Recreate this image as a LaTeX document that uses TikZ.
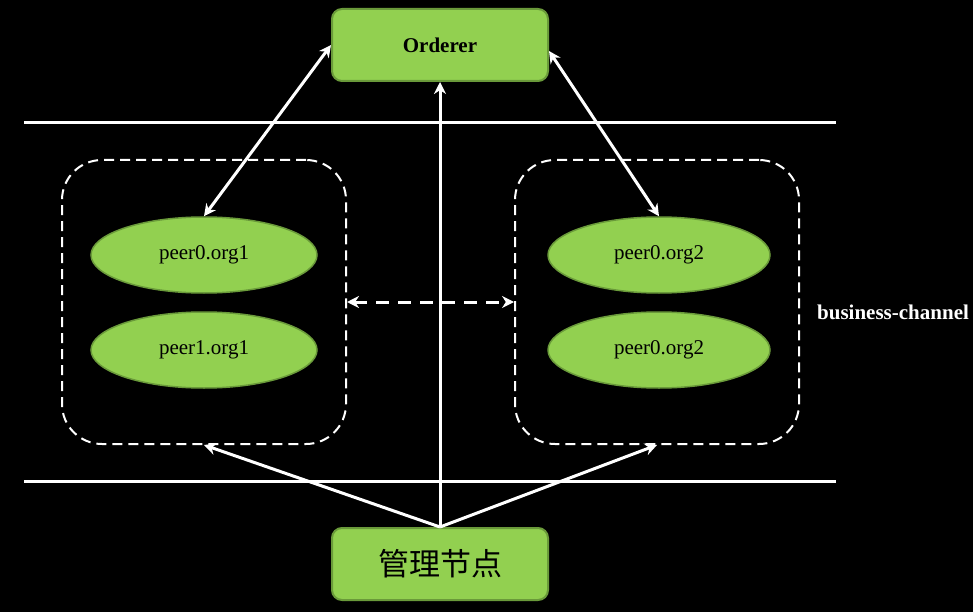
\documentclass[tikz,border=0pt]{standalone}
\usepackage{fontspec}
\setmainfont{Liberation Serif}
\newfontfamily\cjk{Noto Sans CJK SC}
\usetikzlibrary{arrows.meta,shapes.geometric,calc}
\definecolor{lgreen}{HTML}{92D050}
\definecolor{dgreen}{HTML}{6A9A3A}
\tikzset{
  gbox/.style={draw=dgreen,line width=2pt,fill=lgreen,rounded corners=10pt,minimum width=216pt,minimum height=72pt,inner sep=0pt},
  peer/.style={ellipse,draw=dgreen,line width=1.5pt,fill=lgreen,minimum width=226pt,minimum height=76pt,inner sep=0pt,font=\fontsize{21}{23}\selectfont},
  dbox/.style={draw=white,dash pattern=on 10pt off 6pt,line width=2pt,rounded corners=40pt,minimum width=284pt,minimum height=284pt},
  hline/.style={white,line width=3pt},
  tip/.style={Stealth[length=12pt,width=12pt]},
  conn/.style={white,line width=3pt,-{Stealth[length=12pt,width=12pt]}},
  conn2/.style={white,line width=3pt,{Stealth[length=12pt,width=12pt]}-{Stealth[length=12pt,width=12pt]}},
}
\begin{document}
\begin{tikzpicture}[x=1pt,y=-1pt]
\fill[black] (0,0) rectangle (973,612);
\useasboundingbox (0,0) rectangle (973,612);
\coordinate (hl1) at (24,123);
\coordinate (hr1) at (836,123);
\coordinate (hl2) at (24,481);
\coordinate (hr2) at (836,481);
\draw[hline] (hl1) -- (hr1);
\draw[hline] (hl2) -- (hr2);
\node[gbox,font=\bfseries\fontsize{21}{23}\selectfont] (ord) at (440,45) {Orderer};
\node[gbox,font=\cjk\fontsize{31}{34}\selectfont] (mgr) at (440,564) {管理节点};
\node[dbox] (lb) at (204,302) {};
\node[dbox] (rb) at (657,302) {};
\node[peer] (p01) at (204,255) {peer0.org1};
\node[peer] (p11) at (204,350) {peer1.org1};
\node[peer,minimum width=222pt] (p02) at (659,255) {peer0.org2};
\node[peer,minimum width=222pt] (p12) at (659,350) {peer0.org2};
\node[text=white,font=\bfseries\fontsize{21}{23}\selectfont,anchor=west,inner sep=0pt] (bc) at (817,312) {business-channel};
\draw[conn2] (ord.west) -- (p01.north);
\draw[conn2] ($(ord.east)+(0,6)$) -- (p02.north);
\draw[conn] (mgr.north) -- (ord.south);
\draw[conn] (mgr.north) -- (lb.south);
\draw[conn] (mgr.north) -- (rb.south);
\draw[white,line width=3pt,dash pattern=on 13pt off 9pt,{Stealth[length=12pt,width=12pt]}-{Stealth[length=12pt,width=12pt]}] (lb.east) -- (rb.west);
\end{tikzpicture}
\end{document}
